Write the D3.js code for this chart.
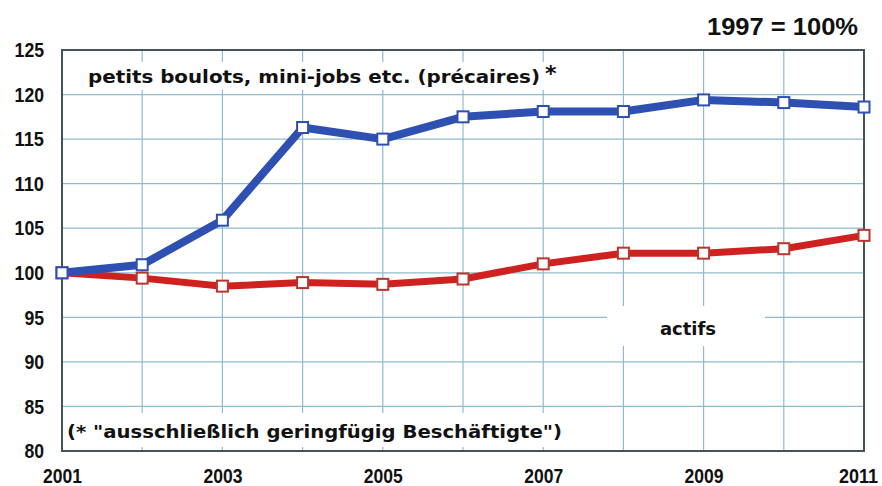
<!DOCTYPE html>
<html>
<head>
<meta charset="utf-8">
<script src="https://cdn.jsdelivr.net/npm/d3@7"></script>
<style>
  body { margin: 0; background: #fff; }
  svg { display: block; }
  .tick text { font-family: "Liberation Sans", Arial, sans-serif; font-weight: bold; font-size: 21px; fill: #111; }
  .lbl { font-family: "DejaVu Sans", Verdana, sans-serif; font-weight: bold; fill: #111; }
</style>
</head>
<body>
<svg id="chart"></svg>
<script>
// years on the x axis
const years = [2001, 2002, 2003, 2004, 2005, 2006, 2007, 2008, 2009, 2010, 2011];

// petits boulots, mini-jobs (index 1997 = 100)
const precaires = [100, 100.9, 105.9, 116.3, 115.0, 117.5, 118.1, 118.1, 119.4, 119.1, 118.6];

// actifs
const actifs = [100, 99.4, 98.5, 98.9, 98.7, 99.3, 101.0, 102.2, 102.2, 102.7, 104.2];

// tick labels
const yTicks = [80, 85, 90, 95, 100, 105, 110, 115, 120, 125];
const xLabels = [2001, 2003, 2005, 2007, 2009, 2011];

const width = 882;
const height = 486;
const plotLeft = 62, plotRight = 864, plotTop = 50, plotBottom = 451;

const svg = d3.select('#chart').attr('width', width).attr('height', height);

const xScale = d3.scaleLinear().domain([2001, 2011]).range([plotLeft, plotRight]);
const yScale = d3.scaleLinear().domain([80, 125]).range([plotBottom, plotTop]);

// grid
const grid = svg.append('g');
grid.selectAll('.hg')
  .data(yTicks)
  .enter().append('line')
  .attr('x1', plotLeft).attr('x2', plotRight)
  .attr('y1', d => yScale(d)).attr('y2', d => yScale(d))
  .attr('stroke', '#8fbccd').attr('stroke-width', 1.2);
grid.selectAll('.vg')
  .data(years)
  .enter().append('line')
  .attr('x1', d => xScale(d)).attr('x2', d => xScale(d))
  .attr('y1', plotTop).attr('y2', plotBottom)
  .attr('stroke', '#8fbccd').attr('stroke-width', 1.2);

// white patches behind the texts
svg.append('rect').attr('x', 84).attr('y', 62).attr('width', 478).attr('height', 28).attr('fill', '#fff');
svg.append('rect').attr('x', 64).attr('y', 413).attr('width', 502).attr('height', 34).attr('fill', '#fff');
svg.append('rect').attr('x', 607).attr('y', 306).attr('width', 158).attr('height', 40).attr('rx', 10).attr('fill', '#fff');

// frame
svg.append('rect')
  .attr('x', plotLeft).attr('y', plotTop)
  .attr('width', plotRight - plotLeft).attr('height', plotBottom - plotTop)
  .attr('fill', 'none').attr('stroke', '#45545a').attr('stroke-width', 2);

// axes (narrow bold digits, about 9.8px each)
const yAxis = d3.axisLeft(yScale).tickValues(yTicks).tickSize(0).tickPadding(18);
svg.append('g')
  .attr('transform', `translate(${plotLeft},0)`)
  .call(yAxis)
  .call(g => g.select('.domain').remove())
  .call(g => g.selectAll('text')
    .attr('textLength', d => String(d).length * 9.8)
    .attr('lengthAdjust', 'spacingAndGlyphs'));

const xAxis = d3.axisBottom(xScale).tickValues(xLabels).tickFormat(d3.format('d')).tickSize(0);
svg.append('g')
  .attr('transform', `translate(0,${plotBottom})`)
  .call(xAxis)
  .call(g => g.select('.domain').remove())
  .call(g => g.selectAll('text')
    .attr('y', 32).attr('dy', 0)
    .attr('dx', d => d === 2011 ? -6 : 0)
    .attr('textLength', 39)
    .attr('lengthAdjust', 'spacingAndGlyphs'));

// lines
const valueline = d3.line()
  .x((d, i) => xScale(years[i]))
  .y(d => yScale(d));

svg.append('path')
  .datum(actifs)
  .attr('fill', 'none')
  .attr('stroke', '#cf2220')
  .attr('stroke-width', 7)
  .attr('stroke-linejoin', 'round')
  .attr('d', valueline);

svg.append('path')
  .datum(precaires)
  .attr('fill', 'none')
  .attr('stroke', '#2f50b3')
  .attr('stroke-width', 8)
  .attr('stroke-linejoin', 'round')
  .attr('d', valueline);

// markers
function markers(data, color) {
  svg.append('g').selectAll('rect')
    .data(data)
    .enter().append('rect')
    .attr('x', (d, i) => xScale(years[i]) - 5.5)
    .attr('y', d => yScale(d) - 5.5)
    .attr('width', 11).attr('height', 11)
    .attr('fill', '#fff')
    .attr('stroke', color)
    .attr('stroke-width', 2);
}
markers(actifs, '#b8362c');
markers(precaires, '#2f50b3');

// labels
svg.append('text').attr('class', 'lbl')
  .attr('x', 88).attr('y', 83)
  .attr('font-size', 17)
  .attr('textLength', 452).attr('lengthAdjust', 'spacingAndGlyphs')
  .text('petits boulots, mini-jobs etc. (précaires)');
svg.append('text').attr('class', 'lbl')
  .attr('x', 545).attr('y', 81)
  .attr('font-size', 22)
  .text('*');

svg.append('text').attr('class', 'lbl')
  .attr('x', 688).attr('y', 335)
  .attr('font-size', 18)
  .attr('text-anchor', 'middle')
  .text('actifs');

svg.append('text').attr('class', 'lbl')
  .attr('x', 67).attr('y', 438)
  .attr('font-size', 17)
  .attr('textLength', 495).attr('lengthAdjust', 'spacingAndGlyphs')
  .text('(* "ausschließlich geringfügig Beschäftigte")');

svg.append('text')
  .attr('x', 707).attr('y', 35)
  .attr('font-family', '"Liberation Sans", Arial, sans-serif')
  .attr('font-weight', 'bold')
  .attr('font-size', 23.5)
  .attr('fill', '#111')
  .attr('textLength', 151).attr('lengthAdjust', 'spacingAndGlyphs')
  .text('1997 = 100%');
</script>
</body>
</html>
